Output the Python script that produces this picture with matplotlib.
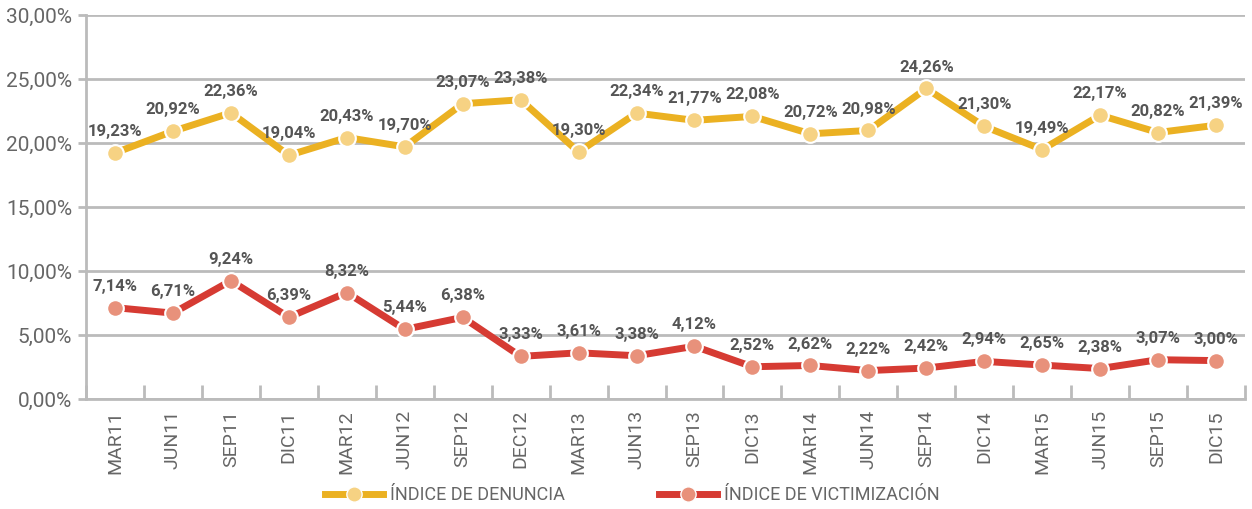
import numpy as np
import matplotlib.pyplot as plt
from matplotlib.lines import Line2D
from matplotlib.ticker import FuncFormatter, FixedLocator

plt.rcParams['font.family'] = ['Roboto', 'DejaVu Sans']

periods = ['MAR11', 'JUN11', 'SEP11', 'DIC11', 'MAR12', 'JUN12', 'SEP12', 'DEC12',
           'MAR13', 'JUN13', 'SEP13', 'DIC13', 'MAR14', 'JUN14', 'SEP14', 'DIC14',
           'MAR15', 'JUN15', 'SEP15', 'DIC15']
denuncia = [19.23, 20.92, 22.36, 19.04, 20.43, 19.70, 23.07, 23.38, 19.30, 22.34,
            21.77, 22.08, 20.72, 20.98, 24.26, 21.30, 19.49, 22.17, 20.82, 21.39]
victimizacion = [7.14, 6.71, 9.24, 6.39, 8.32, 5.44, 6.38, 3.33, 3.61, 3.38,
                 4.12, 2.52, 2.62, 2.22, 2.42, 2.94, 2.65, 2.38, 3.07, 3.00]

gold, gold_m = '#EBB122', '#F6D283'
red, red_m = '#D63B33', '#E8917B'
grid_c = '#BBBBBB'
lab_c = '#555555'

fig = plt.figure(figsize=(12.52, 5.09), dpi=100)
ax = fig.add_axes([0.0687, 0.2161, 0.9257, 0.7544])

x = np.arange(len(periods))
for vals, lc, mc in [(denuncia, gold, gold_m), (victimizacion, red, red_m)]:
    ax.plot(x, vals, color=lc, lw=5, marker='o', ms=12, mfc=mc, mec='white',
            mew=1.5, zorder=3, solid_joinstyle='miter')
    for xi, v in zip(x, vals):
        ax.annotate(f'{v:.2f}%'.replace('.', ','), (xi, v), xytext=(0, 10),
                    textcoords='offset points', ha='center', va='bottom',
                    fontsize=12, fontweight='bold', color=lab_c, zorder=4)

ax.set_xlim(-0.5, len(periods) - 0.5)
ax.set_ylim(0, 30)
ax.set_yticks(np.arange(0, 31, 5))
ax.yaxis.set_major_formatter(FuncFormatter(lambda v, p: f'{v:.2f}%'.replace('.', ',')))
ax.grid(axis='y', color=grid_c, lw=2, zorder=0)
ax.set_axisbelow(True)

ax.xaxis.set_major_locator(FixedLocator(np.arange(-0.5, len(periods), 1)))
ax.xaxis.set_major_formatter(FuncFormatter(lambda v, p: ''))
ax.xaxis.set_minor_locator(FixedLocator(x))
ax.set_xticklabels(periods, minor=True, rotation=90)
ax.tick_params(axis='x', which='major', length=10, width=2, color=grid_c, direction='in')
ax.tick_params(axis='x', which='minor', length=0, pad=8, labelsize=14, labelcolor='#666666')
ax.tick_params(axis='y', length=6, width=2, color=grid_c, labelsize=15, labelcolor='#666666', pad=4)

for s in ['top', 'right']:
    ax.spines[s].set_visible(False)
for s in ['left', 'bottom']:
    ax.spines[s].set_color(grid_c)
    ax.spines[s].set_linewidth(2)

handles = [Line2D([], [], color=gold, lw=5, marker='o', ms=11, mfc=gold_m, mec='white'),
           Line2D([], [], color=red, lw=5, marker='o', ms=11, mfc=red_m, mec='white')]
fig.legend(handles, ['ÍNDICE DE DENUNCIA', 'ÍNDICE DE VICTIMIZACIÓN'], loc='center',
           bbox_to_anchor=(0.505, 0.027), ncol=2, frameon=False, fontsize=13,
           labelcolor='#666666', handlelength=3.2, columnspacing=5.2, handletextpad=0.4)

fig.savefig('out.png', dpi=100)
